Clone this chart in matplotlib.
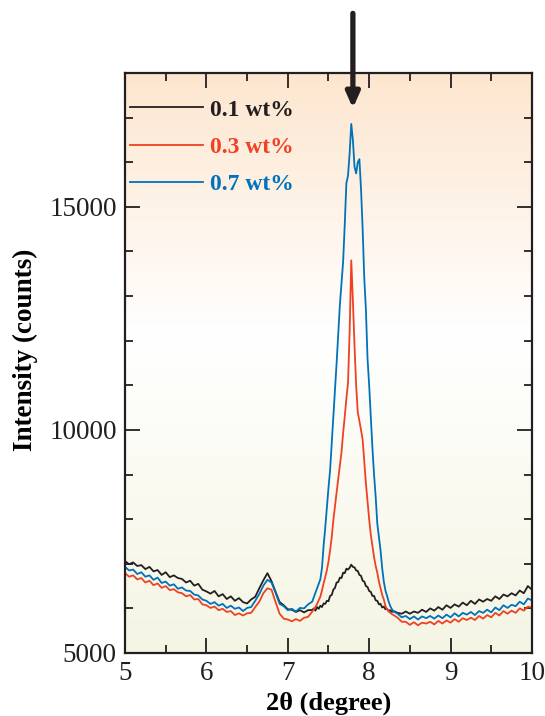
import numpy as np
import matplotlib
matplotlib.use("Agg")
import matplotlib.pyplot as plt
from matplotlib.colors import LinearSegmentedColormap
from matplotlib.ticker import MultipleLocator

plt.rcParams['font.family'] = ['Liberation Serif', 'DejaVu Serif']

# 2theta sampling: coarse on the baselines, finer across the main peak
two_theta = np.concatenate([
    np.round(np.arange(5.00, 7.2501, 0.05), 2),
    np.round(np.arange(7.30, 8.3001, 0.02), 2),
    np.round(np.arange(8.35, 10.0001, 0.05), 2),
])

# intensity (counts), 0.1 wt%
black_a = [7060, 6990, 7030, 6950, 6970, 6880, 6930, 6830, 6860, 6750,
           6810, 6700, 6740, 6680, 6660, 6580, 6620, 6510, 6550, 6420,
           6380, 6330, 6390, 6270, 6320, 6210, 6270, 6170, 6230, 6140,
           6110, 6200, 6260, 6450, 6630, 6790, 6610, 6370, 6140, 6070,
           5980, 5970, 5920, 5960, 5910, 5960]
black_b = [5964, 6000, 5950, 6030, 5990, 6060, 6030, 6110, 6100, 6170,
           6160, 6280, 6300, 6420, 6460, 6580, 6590, 6690, 6680, 6800,
           6790, 6890, 6870, 6910, 6980, 6930, 6920, 6850, 6840, 6750,
           6730, 6620, 6600, 6500, 6480, 6390, 6370, 6280, 6280, 6180,
           6170, 6090, 6100, 6020, 6040, 5980, 5990, 5940, 5960, 5920,
           5940]
black_c = [5900, 5880, 5930, 5880, 5930, 5900, 5970, 5920, 6000, 5950,
           6030, 5970, 6070, 6010, 6090, 6040, 6130, 6070, 6170, 6100,
           6200, 6150, 6210, 6170, 6270, 6210, 6310, 6270, 6340, 6290,
           6400, 6340, 6500, 6420]

# 0.3 wt%
red_a = [6790, 6710, 6740, 6650, 6680, 6580, 6620, 6520, 6560, 6460,
         6500, 6410, 6430, 6360, 6340, 6270, 6300, 6200, 6210, 6090,
         6070, 6010, 6040, 5960, 5990, 5920, 5940, 5850, 5890, 5840,
         5890, 5900, 6030, 6150, 6340, 6450, 6420, 6140, 5880, 5770,
         5750, 5710, 5760, 5720, 5790, 5810]
red_b = [5926, 5980, 6030, 6100, 6180, 6262, 6400, 6560, 6700, 6850,
         7050, 7300, 7600, 7980, 8300, 8600, 8900, 9180, 9500, 9930,
         10300, 10700, 11050, 12200, 13800, 12900, 11900, 11000, 10400, 10200,
         10000, 9780, 9300, 8800, 8400, 8000, 7650, 7400, 7150, 6950,
         6800, 6600, 6450, 6300, 6200, 6050, 5980, 5930, 5900, 5870,
         5850]
red_c = [5790, 5700, 5700, 5630, 5690, 5620, 5680, 5660, 5700, 5640,
         5720, 5660, 5730, 5680, 5760, 5700, 5780, 5740, 5790, 5740,
         5830, 5770, 5850, 5800, 5900, 5840, 5940, 5880, 5950, 5900,
         6000, 5950, 6040, 6020]

# 0.7 wt%
blue_a = [6930, 6850, 6870, 6770, 6810, 6710, 6740, 6640, 6690, 6570,
          6600, 6510, 6540, 6440, 6470, 6400, 6390, 6310, 6290, 6200,
          6170, 6100, 6140, 6060, 6100, 6010, 6060, 5990, 6020, 5940,
          6010, 6030, 6170, 6320, 6510, 6640, 6580, 6350, 6100, 6050,
          5960, 5990, 5930, 6010, 6000, 6090]
blue_b = [6150, 6250, 6350, 6450, 6550, 6650, 6900, 7400, 7800, 8250,
          8700, 9100, 9700, 10300, 10900, 11500, 12170, 12800, 13300, 13770,
          14600, 15530, 15700, 16200, 16860, 16500, 15900, 15750, 16000, 16070,
          15400, 14500, 13400, 12700, 11600, 11000, 10300, 9600, 9000, 8500,
          7900, 7600, 7300, 6900, 6600, 6400, 6280, 6150, 6050, 5980,
          5930]
blue_c = [5880, 5800, 5830, 5760, 5820, 5750, 5820, 5780, 5830, 5770,
          5840, 5780, 5860, 5800, 5890, 5820, 5900, 5860, 5920, 5850,
          5940, 5900, 5970, 5910, 6020, 5960, 6070, 6010, 6080, 6050,
          6150, 6090, 6220, 6180]

labels = ['0.1 wt%', '0.3 wt%', '0.7 wt%']
colors = ['#231f20', '#ef4123', '#0072bc']
series = [black_a + black_b + black_c,
          red_a + red_b + red_c,
          blue_a + blue_b + blue_c]

fig = plt.figure(figsize=(5.45, 7.16), dpi=100)
ax = fig.add_axes([0.2294, 0.088, 0.7466, 0.810])

# background gradient: peach at top, white in the middle, pale yellow at bottom
bg = LinearSegmentedColormap.from_list(
    'bg', [(0.0, '#f5f5e4'), (0.55, '#ffffff'), (1.0, '#fde6cf')])
grad = np.linspace(0, 1, 256).reshape(-1, 1)
ax.imshow(grad, extent=[0, 1, 0, 1], transform=ax.transAxes, origin='lower',
          aspect='auto', cmap=bg, zorder=0)

for y, lab, c in zip(series, labels, colors):
    ax.plot(two_theta, y, color=c, lw=1.3, label=lab, zorder=2)

ax.set_xlim(5, 10)
ax.set_ylim(5000, 18000)
ax.xaxis.set_major_locator(MultipleLocator(1))
ax.xaxis.set_minor_locator(MultipleLocator(0.5))
ax.yaxis.set_major_locator(MultipleLocator(5000))
ax.yaxis.set_minor_locator(MultipleLocator(1000))
ax.tick_params(which='both', direction='in', top=True, right=True,
               width=1.3, colors='#231f20', labelsize=19.5, pad=6)
ax.tick_params(which='major', length=11)
ax.tick_params(which='minor', length=6)
for s in ax.spines.values():
    s.set_linewidth(1.6)
    s.set_color('#231f20')

ax.set_xlabel('2θ (degree)', fontsize=19, fontweight='bold', labelpad=4)
ax.set_ylabel('Intensity (counts)', fontsize=19.5, fontweight='bold')
ax.yaxis.set_label_coords(-0.214, 0.522)

leg = ax.legend(loc='upper left', frameon=False,
                prop={'weight': 'bold', 'size': 17}, labelcolor='linecolor',
                handlelength=3.1, handletextpad=0.3, labelspacing=0.67,
                borderaxespad=0.0, borderpad=0.0,
                bbox_to_anchor=(0.012, 0.955))

# arrow marking the main reflection
ax.annotate('', xy=(7.8, 17150), xytext=(7.8, 19400),
            arrowprops=dict(arrowstyle='-|>,head_width=0.4,head_length=0.9',
                            lw=3.8, color='#231f20'),
            annotation_clip=False, zorder=5)

fig.savefig('out.png', dpi=100)
